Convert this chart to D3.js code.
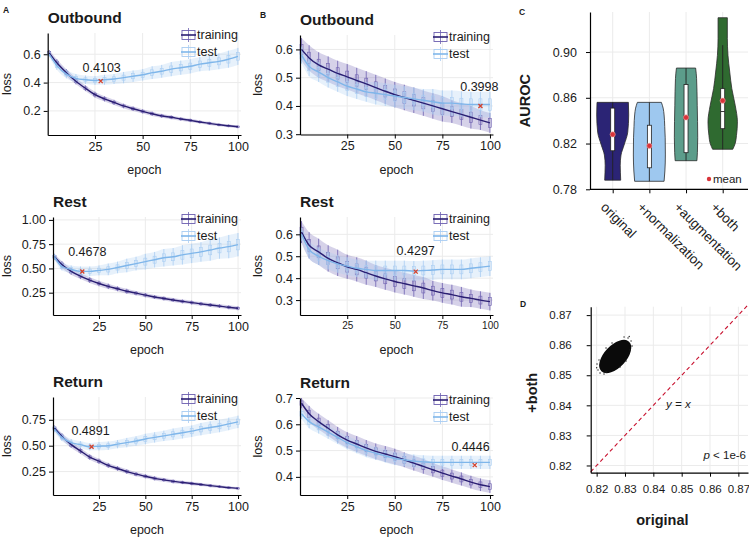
<!DOCTYPE html>
<html><head><meta charset="utf-8">
<script src="https://cdn.jsdelivr.net/npm/d3@7"></script>
<style>body{margin:0;background:#fff} text{font-family:"Liberation Sans",Arial,sans-serif;fill:#1a1a1a}</style>
</head><body><svg id="c" width="749" height="539"></svg>
<script>
// ---------- DATA ----------
const epochs = [1,5,10,15,20,25,30,35,40,45,50,55,60,65,70,75,80,85,90,95,100];
const epochTicks = [25,50,75,100];
const seriesNames = ["training","test"];

const aOutTrain = [0.61,0.54,0.47,0.41,0.36,0.315,0.285,0.26,0.235,0.215,0.197,0.18,0.165,0.155,0.143,0.133,0.122,0.112,0.102,0.095,0.088];
const aOutTest  = [0.60,0.52,0.46,0.43,0.42,0.415,0.42,0.425,0.435,0.445,0.455,0.47,0.48,0.495,0.505,0.515,0.53,0.54,0.55,0.565,0.585];
const aOutTrainSpread = [0.02,0.025,0.025,0.022,0.02,0.02,0.018,0.018,0.016,0.016,0.015,0.015,0.014,0.013,0.012,0.012,0.011,0.011,0.01,0.01,0.01];
const aOutTestSpread  = [0.02,0.03,0.03,0.03,0.03,0.03,0.035,0.035,0.04,0.04,0.04,0.045,0.045,0.05,0.05,0.05,0.05,0.055,0.055,0.06,0.06];

const aRestTrain = [0.62,0.54,0.47,0.42,0.38,0.345,0.315,0.29,0.265,0.245,0.225,0.205,0.19,0.175,0.16,0.148,0.135,0.123,0.112,0.10,0.09];
const aRestTest  = [0.62,0.52,0.49,0.47,0.47,0.48,0.49,0.51,0.53,0.55,0.57,0.59,0.61,0.62,0.64,0.655,0.67,0.69,0.71,0.725,0.745];
const aRestTrainSpread = [0.03,0.035,0.035,0.03,0.03,0.028,0.028,0.025,0.025,0.022,0.022,0.02,0.02,0.02,0.02,0.02,0.02,0.02,0.02,0.02,0.02];
const aRestTestSpread  = [0.03,0.04,0.04,0.05,0.05,0.05,0.06,0.06,0.07,0.07,0.08,0.08,0.09,0.09,0.1,0.1,0.1,0.11,0.11,0.12,0.12];

const aRetTrain = [0.67,0.59,0.51,0.45,0.39,0.35,0.31,0.28,0.25,0.225,0.205,0.185,0.17,0.155,0.145,0.135,0.125,0.115,0.105,0.095,0.088];
const aRetTest  = [0.66,0.58,0.53,0.51,0.49,0.495,0.50,0.515,0.53,0.545,0.565,0.58,0.595,0.61,0.625,0.64,0.66,0.675,0.69,0.71,0.73];
const aRetTrainSpread = [0.025,0.03,0.03,0.028,0.026,0.025,0.024,0.022,0.022,0.02,0.02,0.02,0.018,0.018,0.016,0.016,0.015,0.015,0.014,0.014,0.013];
const aRetTestSpread  = [0.03,0.035,0.035,0.035,0.035,0.04,0.04,0.04,0.045,0.045,0.05,0.05,0.05,0.055,0.055,0.055,0.06,0.06,0.06,0.06,0.06];

const bOutTrain = [0.60,0.57,0.545,0.53,0.515,0.503,0.49,0.478,0.465,0.452,0.44,0.43,0.42,0.41,0.40,0.39,0.38,0.37,0.36,0.35,0.34];
const bOutTest  = [0.58,0.54,0.52,0.50,0.485,0.47,0.46,0.45,0.445,0.44,0.435,0.43,0.425,0.42,0.415,0.41,0.41,0.407,0.405,0.405,0.405];
const bOutTrainSpread = [0.04,0.045,0.045,0.045,0.045,0.045,0.045,0.045,0.045,0.045,0.045,0.045,0.045,0.045,0.045,0.045,0.04,0.04,0.04,0.035,0.035];
const bOutTestSpread  = [0.03,0.035,0.035,0.035,0.035,0.035,0.035,0.035,0.04,0.04,0.04,0.04,0.04,0.04,0.045,0.045,0.045,0.045,0.045,0.045,0.045];

const bRestTrain = [0.61,0.55,0.52,0.49,0.47,0.452,0.44,0.425,0.41,0.397,0.385,0.375,0.365,0.355,0.343,0.333,0.325,0.315,0.308,0.30,0.293];
const bRestTest  = [0.60,0.53,0.50,0.48,0.465,0.455,0.445,0.44,0.435,0.435,0.435,0.435,0.433,0.435,0.437,0.44,0.44,0.44,0.445,0.45,0.455];
const bRestTrainSpread = [0.05,0.06,0.06,0.06,0.06,0.055,0.055,0.055,0.05,0.05,0.05,0.05,0.05,0.05,0.045,0.045,0.045,0.045,0.04,0.04,0.04];
const bRestTestSpread  = [0.03,0.04,0.04,0.04,0.04,0.04,0.04,0.04,0.045,0.045,0.045,0.045,0.045,0.045,0.045,0.045,0.045,0.045,0.045,0.045,0.045];

const bRetTrain = [0.68,0.64,0.61,0.585,0.56,0.54,0.525,0.51,0.497,0.487,0.477,0.465,0.452,0.44,0.427,0.414,0.403,0.392,0.38,0.37,0.363];
const bRetTest  = [0.64,0.61,0.59,0.57,0.55,0.53,0.515,0.50,0.49,0.48,0.47,0.465,0.46,0.457,0.455,0.455,0.455,0.455,0.455,0.455,0.455];
const bRetTrainSpread = [0.02,0.03,0.03,0.03,0.03,0.03,0.03,0.03,0.03,0.03,0.03,0.028,0.028,0.028,0.026,0.026,0.025,0.025,0.024,0.024,0.024];
const bRetTestSpread  = [0.02,0.025,0.025,0.025,0.025,0.025,0.025,0.025,0.025,0.025,0.025,0.025,0.025,0.025,0.025,0.025,0.025,0.025,0.025,0.025,0.025];

const minEpochs = [28,16,21,95,61,92];
const minValues = [0.4103,0.4678,0.4891,0.3998,0.4297,0.4446];
const panelTitles = ["Outbound","Rest","Return","Outbound","Rest","Return"];

// Panel C: violins  ([AUROC value, relative half-width])
const violinCats = ["original","+normalization","+augmentation","+both"];
const violinShapes = [
  [[0.788,0.50],[0.795,0.48],[0.801,0.47],[0.810,0.52],[0.8186,0.71],[0.830,0.94],[0.845,1.0],[0.856,0.98]],
  [[0.787,0.92],[0.796,0.97],[0.810,1.0],[0.825,0.99],[0.835,0.96],[0.845,0.92],[0.851,0.86],[0.856,0.75]],
  [[0.805,0.68],[0.812,0.71],[0.825,0.73],[0.8535,0.70],[0.877,0.66],[0.886,0.60]],
  [[0.815,0.63],[0.820,0.78],[0.827,0.86],[0.839,0.92],[0.8535,0.78],[0.868,0.57],[0.8825,0.44],[0.897,0.33],[0.912,0.29],[0.930,0.29]]
];
const boxQ1 = [0.8137,0.7988,0.812,0.833];
const boxQ3 = [0.851,0.836,0.8716,0.868];
const boxMedian = [0.828,0.817,0.842,0.848];
const whiskerLow = [0.788,0.787,0.805,0.815];
const whiskerHigh = [0.856,0.856,0.886,0.906];
const violinMeans = [0.828,0.818,0.8428,0.8575];
const aurocTicks = [0.78,0.82,0.86,0.90];

// Panel D: scatter
const scatterTicks = [0.82,0.83,0.84,0.85,0.86,0.87];
const cloudXExtent = [0.8210,0.8321];
const cloudYExtent = [0.8504,0.8621];
const cloudEdgePoints = [[0.82048,0.85177],[0.82119,0.85077],[0.82260,0.85044],[0.82013,0.85375],[0.82083,0.85508],[0.83108,0.86240],[0.83214,0.86140],[0.83249,0.85974],[0.82967,0.86273],[0.83179,0.85841],[0.82331,0.85907],[0.82543,0.86073],[0.82825,0.85275],[0.83037,0.85475],[0.82331,0.85109],[0.83150,0.86290],[0.82000,0.85250]];

// ---------- DRAW ----------
const svg = d3.select("#c");
const COL_TR = "#2a1e72", COL_TR_W = "#6d5fb0", COL_TE = "#7fb6ea", COL_TE_W = "#a9cdf2";

function styleAxis(a, fs){
  a.select(".domain").attr("stroke","#000").attr("stroke-width",1.2);
  a.selectAll(".tick line").attr("stroke","#000");
  a.selectAll("text").attr("font-size",fs).style("fill","#1a1a1a").attr("font-family","Liberation Sans, Arial, sans-serif");
}

function lossPanel(p){
  const g = svg.append("g");
  const x = d3.scaleLinear().domain([0.2,101.6]).range([p.L,p.R]);
  const y = d3.scaleLinear().domain(p.yDom).range([p.B,p.T]);
  g.selectAll("line.gx").data(epochTicks).join("line").attr("x1",d=>x(d)).attr("x2",d=>x(d)).attr("y1",p.B).attr("y2",p.T).attr("stroke","#ebebeb");
  g.selectAll("line.gy").data(p.yTicks).join("line").attr("x1",p.L).attr("x2",p.R).attr("y1",d=>y(d)).attr("y2",d=>y(d)).attr("stroke","#ebebeb");
  const sets = [
    {v:p.train,s:p.trainS,line:COL_TR,w:COL_TR_W},
    {v:p.test,s:p.testS,line:COL_TE,w:COL_TE_W}
  ];
  sets.forEach(st=>{
    const pts = epochs.map((e,i)=>({e,v:st.v[i],s:st.s[i]}));
    g.append("path").datum(pts).attr("fill",st.w).attr("fill-opacity",0.28)
      .attr("d",d3.area().x(d=>x(d.e)).y0(d=>y(Math.max(p.yDom[0],d.v-d.s))).y1(d=>y(d.v+d.s)).curve(d3.curveMonotoneX));
    g.selectAll(null).data(pts).join("line").attr("x1",d=>x(d.e)).attr("x2",d=>x(d.e))
      .attr("y1",d=>y(Math.max(p.yDom[0],d.v-d.s))).attr("y2",d=>y(d.v+d.s)).attr("stroke",st.w).attr("stroke-width",0.8);
    g.selectAll(null).data(pts).join("rect").attr("x",d=>x(d.e)-1.5).attr("width",3)
      .attr("y",d=>y(d.v+d.s*0.45)).attr("height",d=>y(d.v-d.s*0.45)-y(d.v+d.s*0.45))
      .attr("fill","none").attr("stroke",st.w).attr("stroke-width",0.6);
  });
  sets.forEach(st=>{
    const pts = epochs.map((e,i)=>({e,v:st.v[i]}));
    g.append("path").datum(pts).attr("fill","none").attr("stroke",st.line).attr("stroke-width",1.4)
      .attr("d",d3.line().x(d=>x(d.e)).y(d=>y(d.v)).curve(d3.curveMonotoneX));
  });
  const mx = x(minEpochs[p.i]), my = y(minValues[p.i]);
  g.append("path").attr("d",`M${mx-2},${my-2}L${mx+2},${my+2}M${mx-2},${my+2}L${mx+2},${my-2}`).attr("stroke","#d6402a").attr("stroke-width",1.3);
  g.append("text").attr("x",mx+p.ax).attr("y",my+p.ay).attr("text-anchor",p.anchor).attr("dominant-baseline","central")
    .attr("font-size",12.5).text(minValues[p.i].toFixed(4));
  const ax = g.append("g").attr("transform",`translate(0,${p.B})`)
    .call(d3.axisBottom(x).tickValues(epochTicks).tickSize(4).tickSizeOuter(0).tickPadding(3));
  styleAxis(ax, p.xfs||12.5);
  const ay = g.append("g").attr("transform",`translate(${p.L},0)`)
    .call(d3.axisLeft(y).tickValues(p.yTicks).tickFormat(d3.format(p.fmt)).tickSize(4).tickSizeOuter(0).tickPadding(3));
  styleAxis(ay, 12.5);
  g.append("text").attr("x",p.L).attr("y",p.T-16).attr("dominant-baseline","central").attr("font-size",15.5).attr("font-weight","bold").text(panelTitles[p.i]);
  g.append("text").attr("transform",`translate(${p.lossX},${(p.T+p.B)/2}) rotate(-90)`).attr("text-anchor","middle").attr("dominant-baseline","central").attr("font-size",12.5).text("loss");
  g.append("text").attr("x",(p.L+p.R)/2).attr("y",p.B+35).attr("text-anchor","middle").attr("dominant-baseline","central").attr("font-size",12.5).text("epoch");
  seriesNames.forEach((nm,k)=>{
    const ly = p.T+2+k*17, lx = p.R-59;
    const c = k===0?[COL_TR,COL_TR_W]:[COL_TE,COL_TE_W];
    g.append("rect").attr("x",lx).attr("y",ly-4.5).attr("width",13).attr("height",9).attr("fill","none").attr("stroke",c[1]).attr("stroke-width",0.9);
    g.append("line").attr("x1",lx+6.5).attr("x2",lx+6.5).attr("y1",ly-7).attr("y2",ly+7).attr("stroke",c[1]).attr("stroke-width",0.8);
    g.append("line").attr("x1",lx-1).attr("x2",lx+14).attr("y1",ly).attr("y2",ly).attr("stroke",c[0]).attr("stroke-width",1.6);
    g.append("text").attr("x",lx+15).attr("y",ly).attr("dominant-baseline","central").attr("font-size",12.5).text(nm);
  });
}

const XA_R = 241, XB_L = 300, XB_R = 493;
lossPanel({i:0,L:47.7,R:XA_R,T:33,B:135,yDom:[0.03,0.75],yTicks:[0.2,0.4,0.6],fmt:".1f",train:aOutTrain,test:aOutTest,trainS:aOutTrainSpread,testS:aOutTestSpread,ax:1,ay:-13,anchor:"middle",lossX:7});
lossPanel({i:1,L:53,R:XA_R,T:217,B:315,yDom:[0.02,1.03],yTicks:[0.25,0.5,0.75,1.0],fmt:".2f",train:aRestTrain,test:aRestTest,trainS:aRestTrainSpread,testS:aRestTestSpread,ax:5,ay:-20,anchor:"middle",lossX:7});
lossPanel({i:2,L:53,R:XA_R,T:397,B:495,yDom:[0.024,0.97],yTicks:[0.25,0.5,0.75],fmt:".2f",train:aRetTrain,test:aRetTest,trainS:aRetTrainSpread,testS:aRetTestSpread,ax:-1,ay:-16,anchor:"middle",lossX:7});
lossPanel({i:3,L:XB_L,R:XB_R,T:35,B:134.5,yDom:[0.299,0.651],yTicks:[0.3,0.4,0.5,0.6],fmt:".1f",train:bOutTrain,test:bOutTest,trainS:bOutTrainSpread,testS:bOutTestSpread,ax:18,ay:-19,anchor:"end",lossX:258});
lossPanel({i:4,L:XB_L,R:XB_R,T:217,B:315,yDom:[0.232,0.679],yTicks:[0.3,0.4,0.5,0.6],fmt:".1f",train:bRestTrain,test:bRestTest,trainS:bRestTrainSpread,testS:bRestTestSpread,ax:0,ay:-21,anchor:"middle",lossX:258,xfs:10});
lossPanel({i:5,L:XB_L,R:XB_R,T:398,B:495,yDom:[0.331,0.70],yTicks:[0.4,0.5,0.6,0.7],fmt:".1f",train:bRetTrain,test:bRetTest,trainS:bRetTrainSpread,testS:bRetTestSpread,ax:15,ay:-18,anchor:"end",lossX:258});

[["A",6,10],["B",263,15],["C",522,12],["D",523,304]].forEach(([t,x,y])=>{
  svg.append("text").attr("x",x).attr("y",y).attr("text-anchor","middle").attr("dominant-baseline","central").attr("font-size",8.5).attr("font-weight","bold").text(t);
});

// ---------- Panel C ----------
(function(){
  const g = svg.append("g");
  const L=590,R=748,T=12,B=189.3;
  const x = d3.scalePoint().domain(violinCats).range([612.7,722.7]);
  const y = d3.scaleLinear().domain([0.78,0.935]).range([B,T]);
  g.selectAll("line.gy").data(aurocTicks).join("line").attr("x1",L).attr("x2",R).attr("y1",d=>y(d)).attr("y2",d=>y(d)).attr("stroke","#ebebeb");
  g.selectAll("line.gx").data(violinCats).join("line").attr("x1",d=>x(d)).attr("x2",d=>x(d)).attr("y1",T).attr("y2",B).attr("stroke","#ebebeb");
  const fills = ["#2b2475","#9ec8ef","#5c9d8b","#2f6a30"];
  const HW = 16;
  violinCats.forEach((c,i)=>{
    const xc = x(c);
    g.append("path").datum(violinShapes[i]).attr("fill",fills[i]).attr("stroke","#2b2b2b").attr("stroke-width",0.8)
      .attr("d",d3.area().y(d=>y(d[0])).x0(d=>xc-d[1]*HW).x1(d=>xc+d[1]*HW).curve(d3.curveMonotoneY));
    g.append("line").attr("x1",xc).attr("x2",xc).attr("y1",y(whiskerLow[i])).attr("y2",y(whiskerHigh[i])).attr("stroke","#222").attr("stroke-width",0.9);
    g.append("rect").attr("x",xc-2).attr("width",4).attr("y",y(boxQ3[i])).attr("height",y(boxQ1[i])-y(boxQ3[i])).attr("fill","#fff").attr("stroke","#222").attr("stroke-width",0.8);
    g.append("line").attr("x1",xc-2).attr("x2",xc+2).attr("y1",y(boxMedian[i])).attr("y2",y(boxMedian[i])).attr("stroke","#222").attr("stroke-width",0.9);
    g.append("circle").attr("cx",xc).attr("cy",y(violinMeans[i])).attr("r",2.6).attr("fill","#d9343a").attr("stroke","#f2a3a3").attr("stroke-width",0.6);
  });
  const ax = g.append("g").attr("transform",`translate(0,${B})`).call(d3.axisBottom(x).tickSize(4).tickSizeOuter(0).tickFormat(""));
  styleAxis(ax,12);
  ax.select(".domain").attr("d",`M${L},0H${R}`);
  const ay = g.append("g").attr("transform",`translate(${L},0)`).call(d3.axisLeft(y).tickValues(aurocTicks).tickFormat(d3.format(".2f")).tickSize(4).tickSizeOuter(0).tickPadding(9));
  styleAxis(ay,12.5);
  violinCats.forEach(c=>{
    g.append("text").attr("transform",`translate(${x(c)-6},${B+12}) rotate(45)`).attr("font-size",13.5).attr("dominant-baseline","hanging").text(c);
  });
  g.append("text").attr("transform",`translate(525,${(T+B)/2}) rotate(-90)`).attr("text-anchor","middle").attr("dominant-baseline","central").attr("font-size",14.5).attr("font-weight","bold").text("AUROC");
  g.append("circle").attr("cx",709).attr("cy",179).attr("r",2.2).attr("fill","#d9343a");
  g.append("text").attr("x",713).attr("y",179).attr("dominant-baseline","central").attr("font-size",11.5).text("mean");
})();

// ---------- Panel D ----------
(function(){
  const g = svg.append("g");
  const L=590.7,R=748,T=306.7,B=472.7;
  const x = d3.scaleLinear().domain([0.8179,0.8734]).range([L,R]);
  const y = d3.scaleLinear().domain([0.8176,0.8728]).range([B,T]);
  g.selectAll("line.gx").data(scatterTicks).join("line").attr("x1",d=>x(d)).attr("x2",d=>x(d)).attr("y1",B).attr("y2",T).attr("stroke","#ebebeb");
  g.selectAll("line.gy").data(scatterTicks).join("line").attr("x1",L).attr("x2",R).attr("y1",d=>y(d)).attr("y2",d=>y(d)).attr("stroke","#ebebeb");
  g.append("line").attr("x1",x(0.8179)).attr("y1",y(0.8179)).attr("x2",x(0.8734)).attr("y2",y(0.8734)).attr("stroke","#c8102e").attr("stroke-width",1.1).attr("stroke-dasharray","4,3");
  const cx = x(d3.mean(cloudXExtent)), cy = y(d3.mean(cloudYExtent));
  const w = x(cloudXExtent[1])-x(cloudXExtent[0]), h = y(cloudYExtent[0])-y(cloudYExtent[1]);
  const diag = Math.sqrt(w*w+h*h)/2;
  g.append("ellipse").attr("cx",cx).attr("cy",cy).attr("rx",diag*0.86).attr("ry",diag*0.47).attr("transform",`rotate(-47,${cx},${cy})`).attr("fill","#0a0a0a");
  g.selectAll(null).data(cloudEdgePoints).join("circle").attr("cx",d=>x(d[0])).attr("cy",d=>y(d[1])).attr("r",0.7).attr("fill","#222");
  const ax = g.append("g").attr("transform",`translate(0,${B})`).call(d3.axisBottom(x).tickValues(scatterTicks).tickFormat(d3.format(".2f")).tickSize(4).tickSizeOuter(0).tickPadding(8));
  const ay = g.append("g").attr("transform",`translate(${L},0)`).call(d3.axisLeft(y).tickValues(scatterTicks).tickFormat(d3.format(".2f")).tickSize(4).tickSizeOuter(0).tickPadding(15));
  styleAxis(ax,11.5); styleAxis(ay,11.5);
  g.append("text").attr("x",(L+R)/2-7).attr("y",520).attr("text-anchor","middle").attr("dominant-baseline","central").attr("font-size",14.5).attr("font-weight","bold").text("original");
  g.append("text").attr("transform",`translate(532,${(T+B)/2+3}) rotate(-90)`).attr("text-anchor","middle").attr("dominant-baseline","central").attr("font-size",14.5).attr("font-weight","bold").text("+both");
  g.append("text").attr("x",x(0.8445)).attr("y",y(0.8405)).attr("dominant-baseline","central").attr("font-size",11.5).attr("font-style","italic").text("y = x");
  const pt = g.append("text").attr("x",R-2).attr("y",455).attr("text-anchor","end").attr("dominant-baseline","central").attr("font-size",11.5);
  pt.append("tspan").attr("font-style","italic").text("p");
  pt.append("tspan").text(" < 1e-6");
})();
</script></body></html>
